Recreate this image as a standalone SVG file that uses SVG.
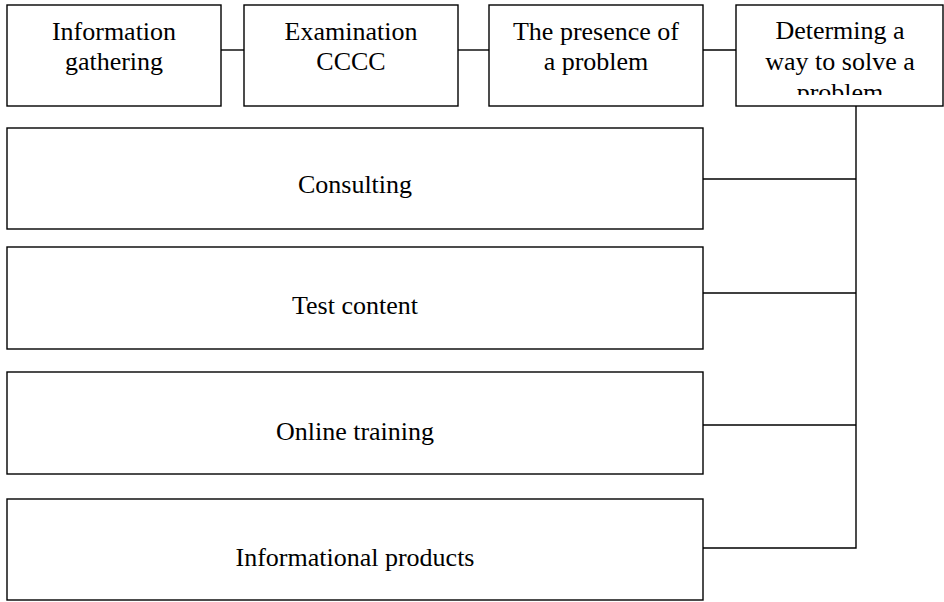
<svg xmlns="http://www.w3.org/2000/svg" width="944" height="602" viewBox="0 0 944 602">
<style>
.box{fill:#fff;stroke:#000;stroke-width:1.4}
text{font-family:'Liberation Serif','Times New Roman',Times,'DejaVu Serif',serif;font-size:26px;fill:#000;text-anchor:middle}
.c{fill:none;stroke:#000;stroke-width:1.4}
</style>
<defs><clipPath id="clip4"><rect x="736" y="5" width="207" height="90"/></clipPath></defs>
<rect width="944" height="602" fill="#fff"/>
<g id="connectors">
<line class="c" x1="221" y1="50" x2="244" y2="50"/>
<line class="c" x1="458" y1="50" x2="489" y2="50"/>
<line class="c" x1="703" y1="50" x2="736" y2="50"/>
<polyline class="c" points="856,106 856,548 703,548"/>
<line class="c" x1="703" y1="179" x2="856" y2="179"/>
<line class="c" x1="703" y1="293" x2="856" y2="293"/>
<line class="c" x1="703" y1="425" x2="856" y2="425"/>
</g>
<g id="n1"><rect class="box" x="7" y="5" width="214" height="101"/><text x="114" y="40">Information</text><text x="114" y="70">gathering</text></g>
<g id="n2"><rect class="box" x="244" y="5" width="214" height="101"/><text x="351" y="40">Examination</text><text x="351" y="70">CCCC</text></g>
<g id="n3"><rect class="box" x="489" y="5" width="214" height="101"/><text x="596" y="40">The presence of</text><text x="596" y="70">a problem</text></g>
<g id="n4"><rect class="box" x="736" y="5" width="207" height="101"/><g clip-path="url(#clip4)"><text x="840" y="39">Determing a</text><text x="840" y="70">way to solve a</text><text x="840" y="101">problem</text></g></g>
<g id="n5"><rect class="box" x="7" y="128" width="696" height="101"/><text x="355" y="193">Consulting</text></g>
<g id="n6"><rect class="box" x="7" y="247" width="696" height="102"/><text x="355" y="314">Test content</text></g>
<g id="n7"><rect class="box" x="7" y="372" width="696" height="102"/><text x="355" y="440">Online training</text></g>
<g id="n8"><rect class="box" x="7" y="499" width="696" height="101"/><text x="355" y="566">Informational products</text></g>
</svg>
